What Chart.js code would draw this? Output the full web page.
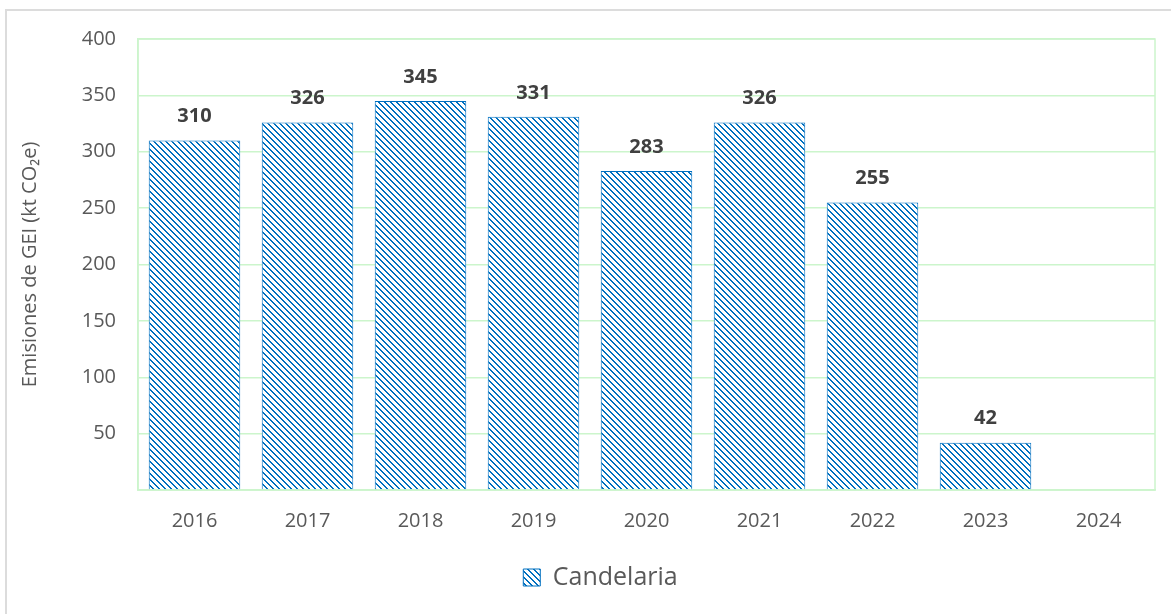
<!DOCTYPE html>
<html>
<head>
<meta charset="utf-8">
<script src="https://cdn.jsdelivr.net/npm/chart.js@4.4.1/dist/chart.umd.min.js"></script>
<style>
  html, body { margin: 0; padding: 0; background: #ffffff; overflow: hidden; }
  #wrap { position: relative; width: 1171px; height: 614px; }
  #frame { position: absolute; left: 5px; top: 9px; width: 1200px; height: 700px; border: 2px solid #dcdcdc; box-sizing: border-box; pointer-events: none; }
  canvas { position: absolute; left: 0; top: 0; }
</style>
</head>
<body>
<div id="wrap">
  <canvas id="c" width="1171" height="614"></canvas>
  <div id="frame"></div>
</div>
<script>
const categories = ['2016', '2017', '2018', '2019', '2020', '2021', '2022', '2023', '2024'];
const seriesName = 'Candelaria';
const emissions = [310, 326, 345, 331, 283, 326, 255, 42, null];
const yTicks = [50, 100, 150, 200, 250, 300, 350, 400];
const yTitle = 'Emisiones de GEI (kt CO\u2082e)';

const FONT = '"Open Sans", "Liberation Sans", sans-serif';
const BLUE = '#0070C0';
const GRID = '#ccf5cc';

function makePattern() {
  const t = document.createElement('canvas');
  t.width = 6; t.height = 6;
  const g = t.getContext('2d');
  g.fillStyle = '#ffffff';
  g.fillRect(0, 0, 6, 6);
  g.fillStyle = BLUE;
  for (let i = 0; i < 6; i++) {
    g.fillRect(i, i, 1, 1);
    g.fillRect((i + 1) % 6, i, 1, 1);
  }
  return document.getElementById('c').getContext('2d').createPattern(t, 'repeat');
}
const pattern = makePattern();

const plotBorder = {
  id: 'plotBorder',
  beforeDatasetsDraw(chart) {
    const a = chart.chartArea, ctx = chart.ctx;
    ctx.save();
    ctx.strokeStyle = GRID;
    ctx.lineWidth = 1.5;
    ctx.strokeRect(a.left, a.top, a.right - a.left, a.bottom - a.top);
    ctx.restore();
  }
};

const valueLabels = {
  id: 'valueLabels',
  afterDatasetsDraw(chart) {
    const ctx = chart.ctx;
    const meta = chart.getDatasetMeta(0);
    const data = chart.data.datasets[0].data;
    ctx.save();
    ctx.font = 'bold 20px ' + FONT;
    ctx.fillStyle = '#404040';
    ctx.textAlign = 'center';
    ctx.textBaseline = 'middle';
    meta.data.forEach((el, i) => {
      const v = data[i];
      if (v === null || v === undefined) return;
      ctx.fillText(String(v), el.x, el.y - 24);
    });
    ctx.restore();
  }
};

new Chart(document.getElementById('c'), {
  type: 'bar',
  data: {
    labels: categories,
    datasets: [{
      label: seriesName,
      data: emissions,
      backgroundColor: pattern,
      borderColor: BLUE,
      borderWidth: 1,
      barPercentage: 0.81,
      categoryPercentage: 1.0
    }]
  },
  options: {
    responsive: false,
    animation: false,
    devicePixelRatio: 1,
    layout: { padding: { left: 46, right: 16, top: 39, bottom: 14 } },
    plugins: {
      legend: {
        position: 'bottom',
        labels: {
          color: '#595959',
          font: { family: FONT, size: 25 },
          boxWidth: 17,
          boxHeight: 17,
          padding: 10
        }
      },
      tooltip: { enabled: false }
    },
    scales: {
      x: {
        grid: { display: false, drawTicks: false },
        border: { display: true, color: GRID, width: 1.5 },
        ticks: { color: '#595959', font: { family: FONT, size: 20 }, padding: 19, maxRotation: 0 },
        afterFit(scale) { scale.height = 65; }
      },
      y: {
        min: 0,
        max: 400,
        afterBuildTicks(scale) {
          scale.ticks = [0].concat(yTicks).map(v => ({ value: v }));
        },
        grid: { color: GRID, lineWidth: 1.5, drawTicks: false },
        border: { display: true, color: GRID, width: 1.5 },
        ticks: {
          color: '#595959',
          font: { family: FONT, size: 20 },
          padding: 22,
          callback: (v) => (v === 0 ? '' : String(v))
        },
        title: {
          display: true,
          text: yTitle,
          color: '#595959',
          font: { family: FONT, size: 20 },
          padding: { top: -28, bottom: 0 }
        },
        afterFit(scale) { scale.width = 92; }
      }
    }
  },
  plugins: [plotBorder, valueLabels]
});
</script>
</body>
</html>
